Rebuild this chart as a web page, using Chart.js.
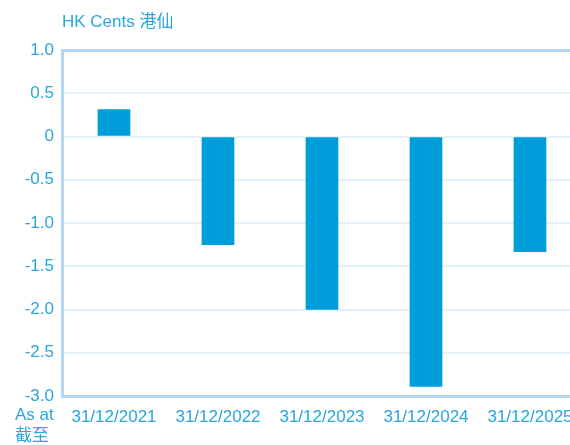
<!DOCTYPE html>
<html>
<head>
<meta charset="utf-8">
<script src="https://cdn.jsdelivr.net/npm/chart.js@4.4.1/dist/chart.umd.min.js"></script>
<style>
  body { margin: 0; overflow: hidden; background: #fff; }
  #wrap { position: relative; width: 582px; height: 445px; }
  .lbl { position: absolute; color: #29a6de; font-family: "Liberation Sans", Arial, sans-serif; font-size: 17px; }
  .cjk { font-family: "Liberation Sans", "Noto Sans CJK TC", sans-serif; }
</style>
</head>
<body>
<div id="wrap">
  <canvas id="chart" width="582" height="445"></canvas>
  <div class="lbl cjk" style="left:62px; top:7px;">HK Cents 港仙</div>
  <div class="lbl cjk" style="left:15px; top:404px; line-height:21px;">As at<br>截至</div>
</div>
<script>
const categories = ["31/12/2021", "31/12/2022", "31/12/2023", "31/12/2024", "31/12/2025"];
const values = [0.31, -1.25, -2.0, -2.89, -1.33];

const tickColor = "#29a6de";
const borderColor = "#b6d7f3";
const gridColor = "#e6f0fa";

new Chart(document.getElementById("chart"), {
  type: "bar",
  data: {
    labels: categories,
    datasets: [{
      data: values,
      backgroundColor: "#009ddb",
      barThickness: 32
    }]
  },
  options: {
    responsive: false,
    devicePixelRatio: 1,
    animation: false,
    layout: { padding: { top: 50, left: 0, right: 0, bottom: 0 } },
    plugins: { legend: { display: false }, tooltip: { enabled: false } },
    scales: {
      x: {
        grid: { display: false },
        border: { color: borderColor, width: 3 },
        ticks: {
          color: tickColor,
          font: { family: "Liberation Sans", size: 17 },
          padding: 3,
          maxRotation: 0,
          autoSkip: false
        },
        afterFit: (s) => { s.height = 49; }
      },
      y: {
        min: -3,
        max: 1,
        grid: {
          drawTicks: false,
          color: (ctx) => (ctx.tick && ctx.tick.value === 1 ? borderColor : gridColor),
          lineWidth: (ctx) => (ctx.tick && ctx.tick.value === 1 ? 3 : 2)
        },
        border: { color: borderColor, width: 3 },
        ticks: {
          stepSize: 0.5,
          color: tickColor,
          padding: 8,
          font: { family: "Liberation Sans", size: 17 },
          callback: (v) => (v === 0 ? "0" : v.toFixed(1))
        },
        afterFit: (s) => { s.width = 62; }
      }
    }
  }
});
</script>
</body>
</html>
